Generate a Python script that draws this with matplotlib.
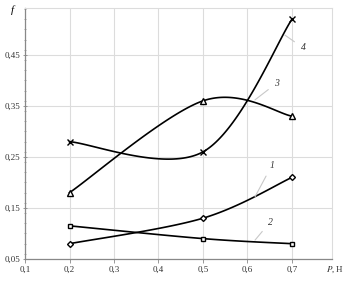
import numpy as np
import matplotlib
matplotlib.use("Agg")
import matplotlib.pyplot as plt
from matplotlib.ticker import FixedLocator, MultipleLocator

# Data
P = [0.2, 0.5, 0.7]
f1 = [0.08, 0.13, 0.21]
f2 = [0.115, 0.09, 0.08]
f3 = [0.18, 0.36, 0.33]
f4 = [0.28, 0.26, 0.52]
xticks = [0.1, 0.2, 0.3, 0.4, 0.5, 0.6, 0.7]
xticklabels = ["0,1", "0,2", "0,3", "0,4", "0,5", "0,6", "0,7"]
yticks = [0.05, 0.15, 0.25, 0.35, 0.45]
yticklabels = ["0,05", "0,15", "0,25", "0,35", "0,45"]


def smooth(x, y, n=60):
    """Excel-like smoothed line (Catmull-Rom Bezier) through the points."""
    pts = np.column_stack([x, y]).astype(float)
    out = []
    m = len(pts)
    for i in range(m - 1):
        p0 = pts[i - 1] if i > 0 else pts[i]
        p1 = pts[i]
        p2 = pts[i + 1]
        p3 = pts[i + 2] if i + 2 < m else pts[i + 1]
        c1 = p1 + (p2 - p0) / 6.0
        c2 = p2 - (p3 - p1) / 6.0
        t = np.linspace(0, 1, n)[:, None]
        seg = ((1 - t) ** 3) * p1 + 3 * ((1 - t) ** 2) * t * c1 + 3 * (1 - t) * t ** 2 * c2 + t ** 3 * p2
        out.append(seg if i == 0 else seg[1:])
    s = np.vstack(out)
    return s[:, 0], s[:, 1]


plt.rcParams['font.family'] = ['Liberation Serif', 'DejaVu Serif']
plt.rcParams['mathtext.fontset'] = 'stix'

fig = plt.figure(figsize=(3.46, 2.83), dpi=100)
ax = fig.add_axes([0.0723, 0.0848, 0.8872, 0.8869])
ax.set_xlim(0.1, 0.79)
ax.set_ylim(0.05, 0.542)

gridc = "#dcdcdc"
ax.xaxis.set_major_locator(FixedLocator(xticks))
ax.set_xticklabels(xticklabels)
ax.yaxis.set_major_locator(FixedLocator(yticks))
ax.set_yticklabels(yticklabels)
ax.yaxis.set_minor_locator(MultipleLocator(0.02))
ax.grid(True, which='major', color=gridc, linewidth=0.8)
ax.tick_params(axis='both', which='major', labelsize=6.5, length=3, width=0.6,
               color="#888888", labelcolor="#333333", pad=2)
ax.tick_params(axis='y', which='minor', length=2, width=0.5, color="#888888")
ax.tick_params(axis='y', which='both', direction='inout')

for s in ['left', 'bottom']:
    ax.spines[s].set_color("#888888")
    ax.spines[s].set_linewidth(0.9)
for s in ['top', 'right']:
    ax.spines[s].set_color(gridc)
    ax.spines[s].set_linewidth(0.8)

series = [(f1, 'D', 3.0), (f2, 's', 3.5), (f3, '^', 3.8), (f4, 'x', 4.0)]
for yv, mk, ms in series:
    sx, sy = smooth(P, yv)
    ax.plot(sx, sy, color='black', linewidth=1.2, zorder=3)
    ax.plot(P, yv, linestyle='none', marker=mk, markersize=ms,
            markerfacecolor='white', markeredgecolor='black',
            markeredgewidth=1.0, zorder=4)


def lab(text, xy_from, xy_text):
    ax.annotate(text, xy=xy_from, xytext=xy_text, xycoords='data', textcoords='data',
                fontsize=7, style='italic', color='#333333', ha='center', va='center',
                arrowprops=dict(arrowstyle='-', color='#c8c8c8', lw=0.8,
                                shrinkA=3, shrinkB=0))


lab("1", (0.617, 0.172), (0.655, 0.234))
lab("2", (0.617, 0.087), (0.651, 0.1225))
lab("3", (0.617, 0.362), (0.666, 0.395))
lab("4", (0.684, 0.489), (0.725, 0.464))

fig.text(12 / 346, 1 - 10 / 283, "f", fontsize=8, style='italic', ha='center', va='center')
fig.text(335 / 346, 1 - 270 / 283, "$P$, Н", fontsize=6.5, ha='center', va='center', color='#333333')

fig.savefig("out.png", dpi=100)
